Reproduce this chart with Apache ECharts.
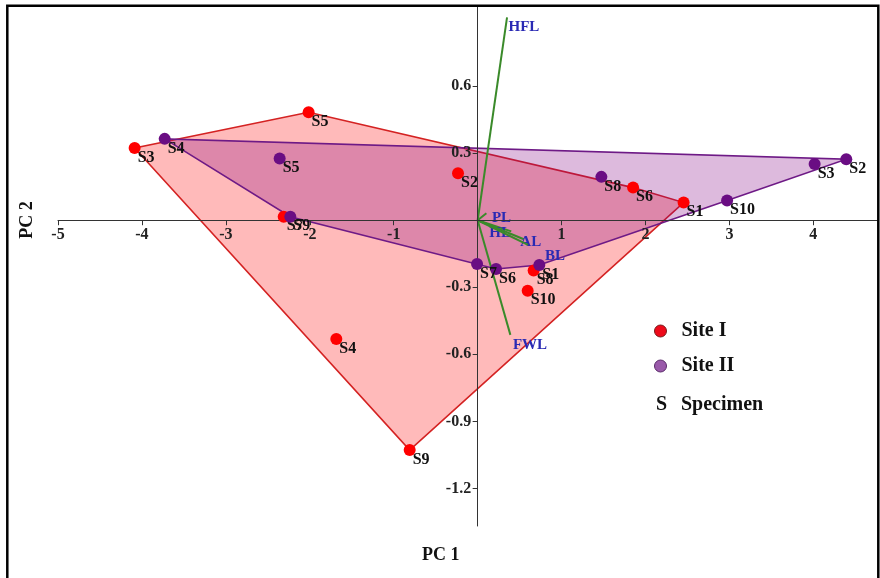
<!DOCTYPE html>
<html><head><meta charset="utf-8">
<script src="https://cdn.jsdelivr.net/npm/echarts@6/dist/echarts.min.js"></script>
<style>html,body{margin:0;padding:0;background:#fff}#c{width:880px;height:578px}</style>
</head><body><div id="c"></div>
<script>
// ---- data ----
const specimens = ['S1','S2','S3','S4','S5','S6','S7','S8','S9','S10'];
const site1X = [2.454, -0.234, -4.087, -1.684, -2.014, 1.852, -2.311, 0.667, -0.810, 0.596];
const site1Y = [0.079, 0.210, 0.323, -0.531, 0.483, 0.146, 0.016, -0.225, -1.028, -0.315];
const site2X = [0.735, 4.392, 4.015, -3.729, -2.359, 0.219, -0.007, 1.474, -2.232, 2.972];
const site2Y = [-0.200, 0.273, 0.252, 0.364, 0.276, -0.218, -0.196, 0.194, 0.016, 0.088];
const loadingNames = ['HFL','PL','HL','AL','BL','FWL'];
const loadingX = [0.350, 0.104, 0.400, 0.550, 0.600, 0.390];
const loadingY = [0.908, 0.031, -0.050, -0.085, -0.110, -0.513];
const xTicks = [-5,-4,-3,-2,-1,1,2,3,4];
const yTicks = [-1.2,-0.9,-0.6,-0.3,0.3,0.6];
const xRange = [-5, 4.77];
const yRange = [-1.368, 0.954];

// ---- layout / styles ----
const W = 880, H = 578;
const GRID = {left:58, right:2, top:7, bottom:52};
const gridW = W - GRID.left - GRID.right;
const gridH = H - GRID.top - GRID.bottom;
// place axes where the other axis is zero (axes cross at the origin)
const xAxisOffset = -gridH * (0 - yRange[0]) / (yRange[1] - yRange[0]);
const yAxisOffset = -gridW * (0 - xRange[0]) / (xRange[1] - xRange[0]);

const SERIF = "'Liberation Serif','Times New Roman',serif";
const loadingLabelOffset = {HFL:[1.5,9.5], PL:[5.5,5], HL:[-22,2], AL:[-3.5,2.5], BL:[17,11], FWL:[2.5,10]};

function convexHull(pts){
  const p = pts.slice().sort((a,b)=>a[0]-b[0]||a[1]-b[1]);
  const cross=(o,a,b)=>(a[0]-o[0])*(b[1]-o[1])-(a[1]-o[1])*(b[0]-o[0]);
  const lower=[], upper=[];
  for(const q of p){ while(lower.length>=2 && cross(lower[lower.length-2],lower[lower.length-1],q)<=0) lower.pop(); lower.push(q); }
  for(let i=p.length-1;i>=0;i--){ const q=p[i]; while(upper.length>=2 && cross(upper[upper.length-2],upper[upper.length-1],q)<=0) upper.pop(); upper.push(q); }
  upper.pop(); lower.pop();
  return lower.concat(upper);
}

const site1 = site1X.map((x,i)=>[x, site1Y[i], specimens[i]]);
const site2 = site2X.map((x,i)=>[x, site2Y[i], specimens[i]]);

function hullSeries(name, pts, stroke, fill, z){
  const hull = convexHull(pts.map(p=>[p[0],p[1]]));
  return {
    type:'custom', name, z, silent:true, clip:false,
    data: hull,
    renderItem(params, api){
      if(params.dataIndex !== 0) return null;
      return {type:'polygon', shape:{points: hull.map(p=>api.coord(p))},
              style:{fill, stroke, lineWidth:1.6}};
    }
  };
}

const pointLabel = {
  show:true, position:'right', distance:0, offset:[-3,9.5],
  formatter: p => p.data[2],
  fontFamily:SERIF, fontWeight:'bold', fontSize:16, color:'#111'
};

const chart = echarts.init(document.getElementById('c'));
chart.setOption({
  animation:false,
  backgroundColor:'#fff',
  grid:GRID,
  xAxis:{
    type:'value', min:xRange[0], max:xRange[1], position:'bottom', offset:xAxisOffset, z:3,
    axisLine:{onZero:false, lineStyle:{color:'#333', width:1}},
    axisTick:{show:true, length:5, customValues:xTicks, lineStyle:{color:'#333'}},
    axisLabel:{customValues:xTicks, margin:7, fontFamily:SERIF, fontWeight:'bold', fontSize:16, color:'#222'},
    splitLine:{show:false}
  },
  yAxis:{
    type:'value', min:yRange[0], max:yRange[1], position:'left', offset:yAxisOffset, z:3,
    axisLine:{show:true, onZero:false, lineStyle:{color:'#333', width:1}},
    axisTick:{show:true, length:5, customValues:yTicks, lineStyle:{color:'#333'}},
    axisLabel:{customValues:yTicks, margin:6.5, fontFamily:SERIF, fontWeight:'bold', fontSize:16, color:'#222'},
    splitLine:{show:false}
  },
  legend:{
    orient:'vertical', left:654, top:321, padding:0,
    itemWidth:12, itemHeight:12, itemGap:15, icon:'circle', selectedMode:false,
    textStyle:{fontFamily:SERIF, fontWeight:'bold', fontSize:20, color:'#111', lineHeight:20, padding:[0,0,0,10]},
    data:[
      {name:'Site I', itemStyle:{color:'#ee0a1a', borderColor:'#7a1a1a', borderWidth:1}},
      {name:'Site II', itemStyle:{color:'#9a5aaa', borderColor:'#5a2a6a', borderWidth:1}}
    ]
  },
  graphic:[
    {type:'rect', silent:true, shape:{x:7.3, y:5.7, width:871, height:700},
     style:{fill:'none', stroke:'#000', lineWidth:2.5}, z:100},
    {type:'text', left:422, top:546, style:{text:'PC 1', font:"bold 18px 'Liberation Serif'", fill:'#111'}},
    {type:'text', x:27, y:220, rotation:Math.PI/2,
     style:{text:'PC 2', font:"bold 18px 'Liberation Serif'", fill:'#111', align:'center', verticalAlign:'middle'}},
    {type:'text', left:656, top:395, style:{text:'S', font:"bold 20px 'Liberation Serif'", fill:'#111'}},
    {type:'text', left:681, top:395, style:{text:'Specimen', font:"bold 20px 'Liberation Serif'", fill:'#111'}}
  ],
  series:[
    hullSeries('Site I hull', site1, '#d42222', 'rgba(255,0,0,0.27)', 1),
    hullSeries('Site II hull', site2, '#6e1a86', 'rgba(128,0,128,0.27)', 2),
    {
      type:'custom', name:'Loadings', z:3, silent:true, clip:false,
      data: loadingNames.map((n,i)=>[loadingX[i], loadingY[i]]),
      renderItem(params, api){
        const o = api.coord([0,0]);
        const t = api.coord([api.value(0), api.value(1)]);
        const name = loadingNames[params.dataIndex];
        const off = loadingLabelOffset[name];
        return {type:'group', children:[
          {type:'line', shape:{x1:o[0], y1:o[1], x2:t[0], y2:t[1]}, style:{stroke:'#3a8a2a', lineWidth:2}},
          {type:'text', style:{text:name, x:t[0]+off[0], y:t[1]+off[1], fill:'#2a2ab4',
            font:"bold 15px 'Liberation Serif'", align:'left', verticalAlign:'middle'}}
        ]};
      }
    },
    {type:'scatter', name:'Site I', z:4, data:site1, symbol:'circle', symbolSize:12,
     itemStyle:{color:'#ff0000', opacity:1}, label:pointLabel},
    {type:'scatter', name:'Site II', z:5, data:site2, symbol:'circle', symbolSize:12,
     itemStyle:{color:'#6a0d83', opacity:1}, label:pointLabel}
  ]
});
</script></body></html>
